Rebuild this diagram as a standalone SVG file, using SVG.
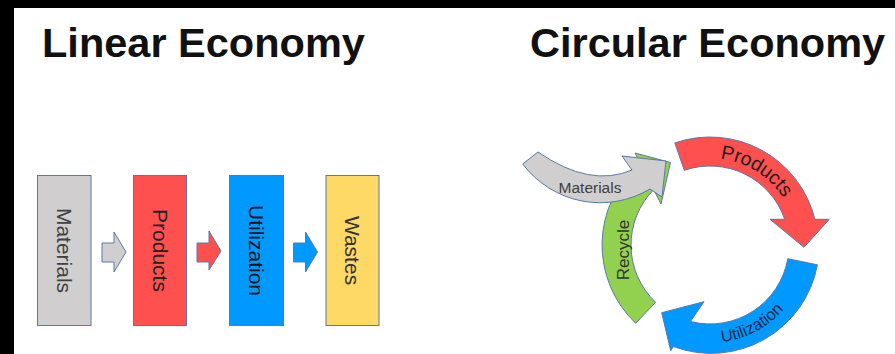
<svg xmlns="http://www.w3.org/2000/svg" xmlns:xlink="http://www.w3.org/1999/xlink" width="895" height="354" viewBox="0 0 895 354">
<style>
.title{font-family:"Liberation Sans",Arial,sans-serif;font-weight:bold;font-size:41.5px;fill:#111}
.lbl{font-family:"Liberation Sans",Arial,sans-serif;font-size:21px}
.shape{stroke:#5a78a8;stroke-width:1}
.gray{fill:#d0cece}
.red{fill:#ff5050}
.blue{fill:#0099ff}
.green{fill:#92d050}
.yellow{fill:#ffd966}
.clbl{font-family:"Liberation Sans",Arial,sans-serif}
</style>
<defs>
<path id="pProducts" d="M656.4,176.4 A87,87 0 0 1 795.1,263.1"/>
<path id="pUtil" d="M644.4,317.8 A98,98 0 0 0 807,231.4"/>
</defs>
<rect x="0" y="0" width="895" height="354" fill="#fff"/>
<rect x="0" y="0" width="895" height="8" fill="#000"/>
<rect x="0" y="0" width="14" height="354" fill="#000"/>

<g id="titles">
<text class="title" x="42" y="57">Linear Economy</text>
<text class="title" x="530" y="57">Circular Economy</text>
</g>

<g id="linear-connectors">
<path class="shape gray" d="M102,243 H114 V232 L126,252 L114,272 V262 H102 Z"/>
<path class="shape red" d="M197,243 H209 V231 L221,251 L209,270 V262 H197 Z"/>
<path class="shape blue" d="M293.5,243 H305.5 V232 L317.5,252 L305.5,272 V262 H293.5 Z"/>
</g>

<g id="lin-materials">
<rect class="shape gray" x="37.5" y="175.5" width="53.5" height="150"/>
<text class="lbl" fill="#404040" text-anchor="middle" dominant-baseline="central" transform="translate(64,250.5) rotate(90)">Materials</text>
</g>
<g id="lin-products">
<rect class="shape red" x="133.5" y="175.5" width="53" height="150"/>
<text class="lbl" fill="#222" text-anchor="middle" dominant-baseline="central" transform="translate(160,250.5) rotate(90)">Products</text>
</g>
<g id="lin-utilization">
<rect class="shape blue" x="229.5" y="175.5" width="54" height="150"/>
<text class="lbl" fill="#111" text-anchor="middle" dominant-baseline="central" transform="translate(256.5,250.5) rotate(90)">Utilization</text>
</g>
<g id="lin-wastes">
<rect class="shape yellow" x="326" y="175.5" width="53" height="150"/>
<text class="lbl" fill="#333" text-anchor="middle" dominant-baseline="central" transform="translate(352.5,250.5) rotate(90)">Wastes</text>
</g>

<g id="circ-products">
<path class="shape red" d="M674.8,142.9 A108,108 0 0 1 814.9,219.3 L829.3,219.3 L804,247.3 L770,219.3 L784.7,219.3 A79,79 0 0 0 684.3,170.3 Z"/>
<text class="clbl" font-size="19.5" fill="#1a1a1a"><textPath xlink:href="#pProducts" href="#pProducts" startOffset="50%" text-anchor="middle">Products</textPath></text>
</g>
<g id="circ-utilization">
<path class="shape blue" d="M817.4,264.8 A108,108 0 0 1 673.5,346.6 L670.7,350.7 L661.7,312.7 L704,301.7 L690.5,321.5 A79,79 0 0 0 787.8,258.7 Z"/>
<text class="clbl" font-size="16.5" fill="#1a2a4a"><textPath xlink:href="#pUtil" href="#pUtil" startOffset="50%" text-anchor="middle">Utilization</textPath></text>
</g>
<g id="circ-recycle">
<path class="shape green" d="M635.7,323.3 A108,108 0 0 1 640,162.8 L635,153 L670.5,162.5 L661,204 L653.7,189.6 A79,79 0 0 0 655.6,302.3 Z"/>
<text class="clbl" font-size="17" fill="#333" text-anchor="middle" transform="translate(628.5,250) rotate(-90)">Recycle</text>
</g>
<g id="circ-materials">
<path class="shape gray" d="M538,152 Q590,188 632,170 L622,156 L666,161 L662,197 L650,189 A97,97 0 0 1 522.7,164 Z"/>
<text class="clbl" font-size="15.5" fill="#404040" text-anchor="middle" x="590" y="193">Materials</text>
</g>
</svg>
